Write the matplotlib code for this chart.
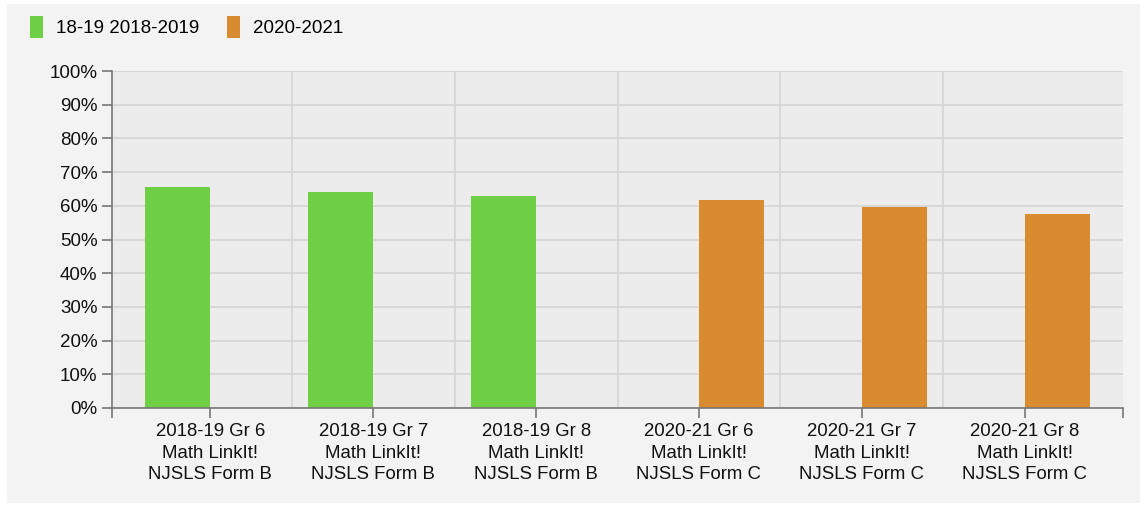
import numpy as np
import matplotlib.pyplot as plt
from matplotlib.patches import Rectangle

# 数据
categories = [
    "2018-19 Gr 6\nMath LinkIt!\nNJSLS Form B",
    "2018-19 Gr 7\nMath LinkIt!\nNJSLS Form B",
    "2018-19 Gr 8\nMath LinkIt!\nNJSLS Form B",
    "2020-21 Gr 6\nMath LinkIt!\nNJSLS Form C",
    "2020-21 Gr 7\nMath LinkIt!\nNJSLS Form C",
    "2020-21 Gr 8\nMath LinkIt!\nNJSLS Form C",
]
series_names = ["18-19 2018-2019", "2020-2021"]
values_1819 = [65.5, 64.2, 63.0, np.nan, np.nan, np.nan]
values_2021 = [np.nan, np.nan, np.nan, 61.7, 59.7, 57.6]
y_ticks = list(range(0, 101, 10))

green = "#6fd046"
orange = "#d98b2f"

plt.rcParams['font.family'] = ['Liberation Sans', 'DejaVu Sans']

fig = plt.figure(figsize=(11.45, 5.07), dpi=100)
fig.patch.set_facecolor("white")
# 浅灰色背景面板
bg = Rectangle((7 / 1145, 4 / 507), 1133 / 1145, 499 / 507,
               transform=fig.transFigure, facecolor="#f3f3f3",
               edgecolor="none", zorder=-10)
fig.add_artist(bg)

ax = fig.add_axes([112 / 1145, 99 / 507, 1011 / 1145, 337 / 507])
ax.set_zorder(1)
ax.set_facecolor("#ececec")

x = np.arange(len(categories))
w = 0.4
ax.bar(x - w / 2, values_1819, w, color=green, label=series_names[0], zorder=3)
ax.bar(x + w / 2, values_2021, w, color=orange, label=series_names[1], zorder=3)

pad = 17 / 163
ax.set_xlim(-0.5 - pad, len(categories) - 0.5 + pad)
ax.set_ylim(0, 100)

# 网格
for yv in y_ticks:
    ax.axhline(yv, color="#d4d4d4", linewidth=1.2, zorder=1)
for xv in np.arange(0.5, len(categories) - 1, 1.0):
    ax.axvline(xv, color="#d4d4d4", linewidth=1.2, zorder=1)

ax.set_yticks(y_ticks)
ax.set_yticklabels([f"{v}%" for v in y_ticks])
ax.set_xticks(x)
ax.set_xticklabels(categories, linespacing=1.35)
ax.set_xticks([-0.5 - pad, len(categories) - 0.5 + pad], minor=True)

ax.tick_params(axis="both", colors="#777777", labelcolor="#111111", labelsize=13.5,
               width=1.2, length=7)
ax.tick_params(axis="x", which="minor", colors="#777777", width=1.2, length=7)
ax.tick_params(axis="x", pad=4, labelsize=13.4)

for s in ["top", "right"]:
    ax.spines[s].set_visible(False)
for s in ["left", "bottom"]:
    ax.spines[s].set_color("#777777")
    ax.spines[s].set_linewidth(1.2)
    ax.spines[s].set_zorder(4)

leg = fig.legend(loc="upper left", bbox_to_anchor=(13 / 1145, 1 + 1 / 507), ncol=2,
                 frameon=False, fontsize=13.5, handlelength=0.7, handleheight=1.4,
                 handletextpad=0.7, columnspacing=1.45)

fig.savefig("out.png", dpi=100)
